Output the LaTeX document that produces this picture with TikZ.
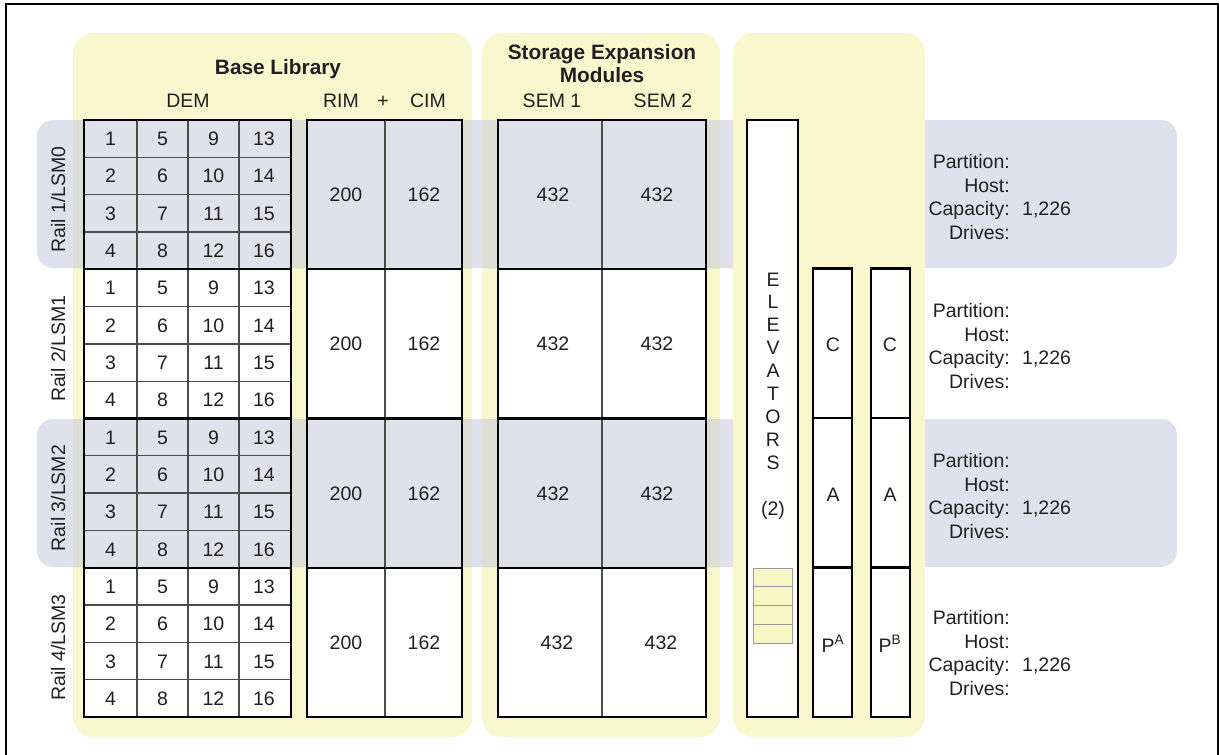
\documentclass[tikz,border=0pt]{standalone}
\usepackage{fontspec}
\setmainfont{Liberation Sans}
\definecolor{panelY}{RGB}{249,247,205}
\definecolor{bandC}{RGB}{200,204,222}
\definecolor{txt}{RGB}{35,31,32}
\definecolor{smallY}{RGB}{249,246,198}
\begin{document}
\begin{tikzpicture}[x=1pt,y=-1pt,
  panel/.style={fill=panelY, rounded corners=20pt},
  band/.style={fill=bandC, fill opacity=0.58, rounded corners=16pt},
  outerbox/.style={draw=black, line width=2.4pt},
  innerline/.style={draw=black!70, line width=1.3pt},
  lbl/.style={font=\fontsize{19.5}{23}\selectfont, text=txt, inner sep=0pt, text height=14pt, text depth=0pt},
  hdr/.style={font=\bfseries\fontsize{20.8}{23}\selectfont, text=txt, inner sep=0pt, text height=14.9pt, text depth=0pt},
  smallbox/.style={draw=black!40, fill=smallY, line width=0.8pt},
]
\useasboundingbox (0,0) rectangle (1219,755);
\draw[line width=2pt] (6,4) rectangle (1218,762);

% panels
\path[panel] (73,33) rectangle (472,737);
\path[panel] (482,33) rectangle (720,737);

% white fills
\fill[white] (84,120) rectangle (291,717);
\fill[white] (307,120) rectangle (462,717);
\fill[white] (498,120) rectangle (706,717);

% bands
\path[band] (37,120) rectangle (1177,268);
\path[band] (37,419) rectangle (1177,567);

% headers
\node[hdr] (hBase) at (278,67) {Base Library};
\node[lbl] (hDEM) at (188,100) {DEM};
\node[lbl] (hRIM) at (341,100) {RIM};
\node[lbl] (hPlus) at (383,100) {+};
\node[lbl] (hCIM) at (428,100) {CIM};
\node[hdr] (hSEa) at (602,52) {Storage Expansion};
\node[hdr] (hSEb) at (602,75) {Modules};
\node[lbl] (hSEM1) at (552,100) {SEM 1};
\node[lbl] (hSEM2) at (663,100) {SEM 2};
\node[hdr] (hSRa) at (826,65) {Shared};
\node[hdr] (hSRb) at (826,88) {Resources};

% rows
\foreach \r in {0,1,2,3}{
  \pgfmathsetmacro\ya{120+149.25*\r}
  \pgfmathsetmacro\yb{\ya+149.25}
  \pgfmathsetmacro\ym{\ya+74.6}
  \pgfmathtruncatemacro\n{\r+1}
  % DEM grid
  \foreach \xx in {137,188,239}{\draw[innerline] (\xx,\ya) -- (\xx,\yb);}
  \foreach \k in {1,2,3}{\draw[innerline] (84,\ya+37.31*\k) -- (291,\ya+37.31*\k);}
  \draw[outerbox] (84,\ya) rectangle (291,\yb);
  \foreach \c/\cx in {0/110.5,1/162.5,2/213.5,3/264}{
    \foreach \k in {0,1,2,3}{
      \pgfmathtruncatemacro\num{\c*4+\k+1}
      \node[lbl] (d-\r-\c-\k) at (\cx,\ya+18.65+37.31*\k) {\num};
    }
  }
  % rail label
  \node[lbl, rotate=90] (rail\r) at (58,\ym+5) {Rail \n/LSM\r};
  % RIM/CIM
  \draw[innerline] (385,\ya) -- (385,\yb);
  \draw[outerbox] (307,\ya) rectangle (462,\yb);
  \node[lbl] (rim\r) at (346,\ym) {200};
  \node[lbl] (cim\r) at (424,\ym) {162};
  % SEM
  \draw[innerline] (602,\ya) -- (602,\yb);
  \draw[outerbox] (498,\ya) rectangle (706,\yb);
}
\node[lbl] (semA0) at (553,194.6) {432};
\node[lbl] (semB0) at (657,194.6) {432};
\node[lbl] (semA1) at (553,343.8) {432};
\node[lbl] (semB1) at (657,343.8) {432};
\node[lbl] (semA2) at (553,493.1) {432};
\node[lbl] (semB2) at (657,493.1) {432};
\node[lbl] (semA3) at (557,642.3) {432};
\node[lbl] (semB3) at (661,642.3) {432};

% shared resources
\path[panel] (733,33) rectangle (925,737);
\draw[outerbox, fill=white] (747,120) rectangle (798,717);
\foreach \k in {0,1,2,3}{
  \draw[smallbox] (753,568+18.75*\k) rectangle (792,568+18.75*\k+18.75);
}
\foreach \i/\l in {0/E,1/L,2/E,3/V,4/A,5/T,6/O,7/R,8/S}{
  \node[lbl] (el\i) at (773,279+22.9*\i) {\l};
}
\node[lbl] (el2) at (773,508) {(2)};
\foreach \xa/\xb/\nm in {813/852/a,871/910/b}{
  \draw[outerbox, fill=white] (\xa,268.5) rectangle (\xb,717);
  \draw[outerbox] (\xa,418) -- (\xb,418);
  \draw[outerbox] (\xa,567.5) -- (\xb,567.5);
}
\node[lbl] (ca) at (833,344) {C};
\node[lbl] (cb) at (890,344) {C};
\node[lbl] (aa) at (833,494) {A};
\node[lbl] (ab) at (890,494) {A};
\node[lbl] (pa) at (833,645) {P\textsuperscript{A}};
\node[lbl] (pb) at (890,645) {P\textsuperscript{B}};

% right info
\foreach \r/\cy in {0/197,1/346,2/496,3/653}{
  \node[lbl, anchor=east] (part\r) at (1010,\cy-35.3) {Partition:};
  \node[lbl, anchor=east] (host\r) at (1010,\cy-11.8) {Host:};
  \node[lbl, anchor=east] (cap\r) at (1010,\cy+11.8) {Capacity:};
  \node[lbl, anchor=east] (drv\r) at (1010,\cy+35.3) {Drives:};
  \node[lbl, anchor=west] (capv\r) at (1022,\cy+11.8) {1,226};
}
\end{tikzpicture}
\end{document}
